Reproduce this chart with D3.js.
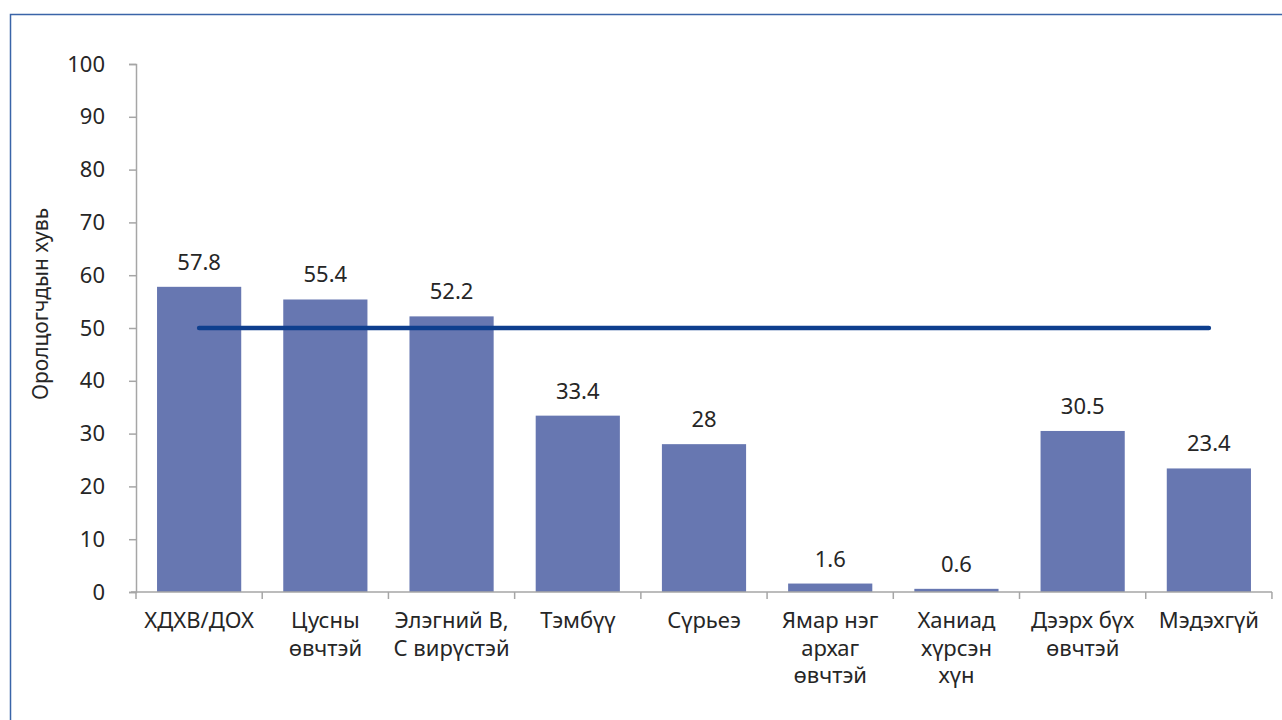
<!DOCTYPE html>
<html>
<head>
<meta charset="utf-8">
<script src="https://cdn.jsdelivr.net/npm/d3@7"></script>
<style>
  body { margin: 0; background: #fff; }
  text { font-family: "Noto Sans", "Open Sans", sans-serif; fill: #262626; }
</style>
</head>
<body>
<svg id="chart"></svg>
<script>
const categories = [
  ["ХДХВ/ДОХ"],
  ["Цусны", "өвчтэй"],
  ["Элэгний В,", "С вирүстэй"],
  ["Тэмбүү"],
  ["Сүрьеэ"],
  ["Ямар нэг", "архаг", "өвчтэй"],
  ["Ханиад", "хүрсэн", "хүн"],
  ["Дээрх бүх", "өвчтэй"],
  ["Мэдэхгүй"]
];
const values = [57.8, 55.4, 52.2, 33.4, 28, 1.6, 0.6, 30.5, 23.4];
const valueLabels = ["57.8", "55.4", "52.2", "33.4", "28", "1.6", "0.6", "30.5", "23.4"];
const refLevel = 50;
const yTicks = [0, 10, 20, 30, 40, 50, 60, 70, 80, 90, 100];
const yTitle = "Оролцогчдын хувь";

const width = 1282, height = 720;
const plotLeft = 136, plotRight = 1272, plotTop = 64, plotBottom = 592;

const svg = d3.select('#chart')
    .attr('width', width)
    .attr('height', height);

// outer frame
svg.append('rect')
    .attr('x', 10.5).attr('y', 14.5)
    .attr('width', 1300).attr('height', 800)
    .attr('fill', 'none')
    .attr('stroke', '#3a64a8')
    .attr('stroke-width', 1.5);

const x = d3.scaleBand()
    .domain(d3.range(categories.length))
    .range([plotLeft, plotRight])
    .paddingInner(0.333)
    .paddingOuter(0.1667);

const y = d3.scaleLinear()
    .domain([0, 100])
    .range([plotBottom, plotTop]);

// y axis
const yAxis = d3.axisLeft(y).tickValues(yTicks).tickSize(7).tickPadding(24);
const gy = svg.append('g')
    .attr('transform', 'translate(' + plotLeft + ',0)')
    .call(yAxis);
gy.selectAll('line, path').attr('stroke', '#a6a6a6').attr('stroke-width', 1.5);
gy.selectAll('text').style('font-size', '22px').attr('fill', '#262626');

// bars
svg.selectAll('.bar')
    .data(values)
    .enter()
    .append('rect')
    .attr('class', 'bar')
    .attr('x', (d, i) => x(i))
    .attr('y', d => y(d))
    .attr('width', x.bandwidth())
    .attr('height', d => plotBottom - y(d))
    .attr('fill', '#6777b1');

// x axis
const step = x.step();
svg.append('line')
    .attr('x1', plotLeft - 5).attr('x2', plotRight)
    .attr('y1', plotBottom).attr('y2', plotBottom)
    .attr('stroke', '#a6a6a6').attr('stroke-width', 1.5);
svg.selectAll('.xtick')
    .data(d3.range(categories.length + 1))
    .enter()
    .append('line')
    .attr('x1', i => plotLeft + i * step)
    .attr('x2', i => plotLeft + i * step)
    .attr('y1', plotBottom).attr('y2', plotBottom + 7)
    .attr('stroke', '#a6a6a6').attr('stroke-width', 1.5);

const lbl = svg.selectAll('.xlabel')
    .data(categories)
    .enter()
    .append('text')
    .attr('class', 'xlabel')
    .attr('text-anchor', 'middle')
    .style('font-size', '22px')
    .attr('transform', (d, i) => 'translate(' + (x(i) + x.bandwidth() / 2) + ',628)');
lbl.selectAll('tspan')
    .data(d => d)
    .enter()
    .append('tspan')
    .attr('x', 0)
    .attr('dy', (d, j) => j === 0 ? 0 : 27.5)
    .text(d => d);

// value labels
svg.selectAll('.vlabel')
    .data(values)
    .enter()
    .append('text')
    .attr('text-anchor', 'middle')
    .style('font-size', '22px')
    .attr('x', (d, i) => x(i) + x.bandwidth() / 2)
    .attr('y', d => y(d) - 17)
    .text((d, i) => valueLabels[i]);

// reference line
svg.append('line')
    .attr('x1', x(0) + x.bandwidth() / 2)
    .attr('x2', x(categories.length - 1) + x.bandwidth() / 2)
    .attr('y1', y(refLevel)).attr('y2', y(refLevel))
    .attr('stroke', '#0e3f8e')
    .attr('stroke-width', 4.5)
    .attr('stroke-linecap', 'round');

// y title
svg.append('text')
    .attr('transform', 'translate(48,304) rotate(-90)')
    .attr('text-anchor', 'middle')
    .style('font-size', '21px')
    .text(yTitle);
</script>
</body>
</html>
